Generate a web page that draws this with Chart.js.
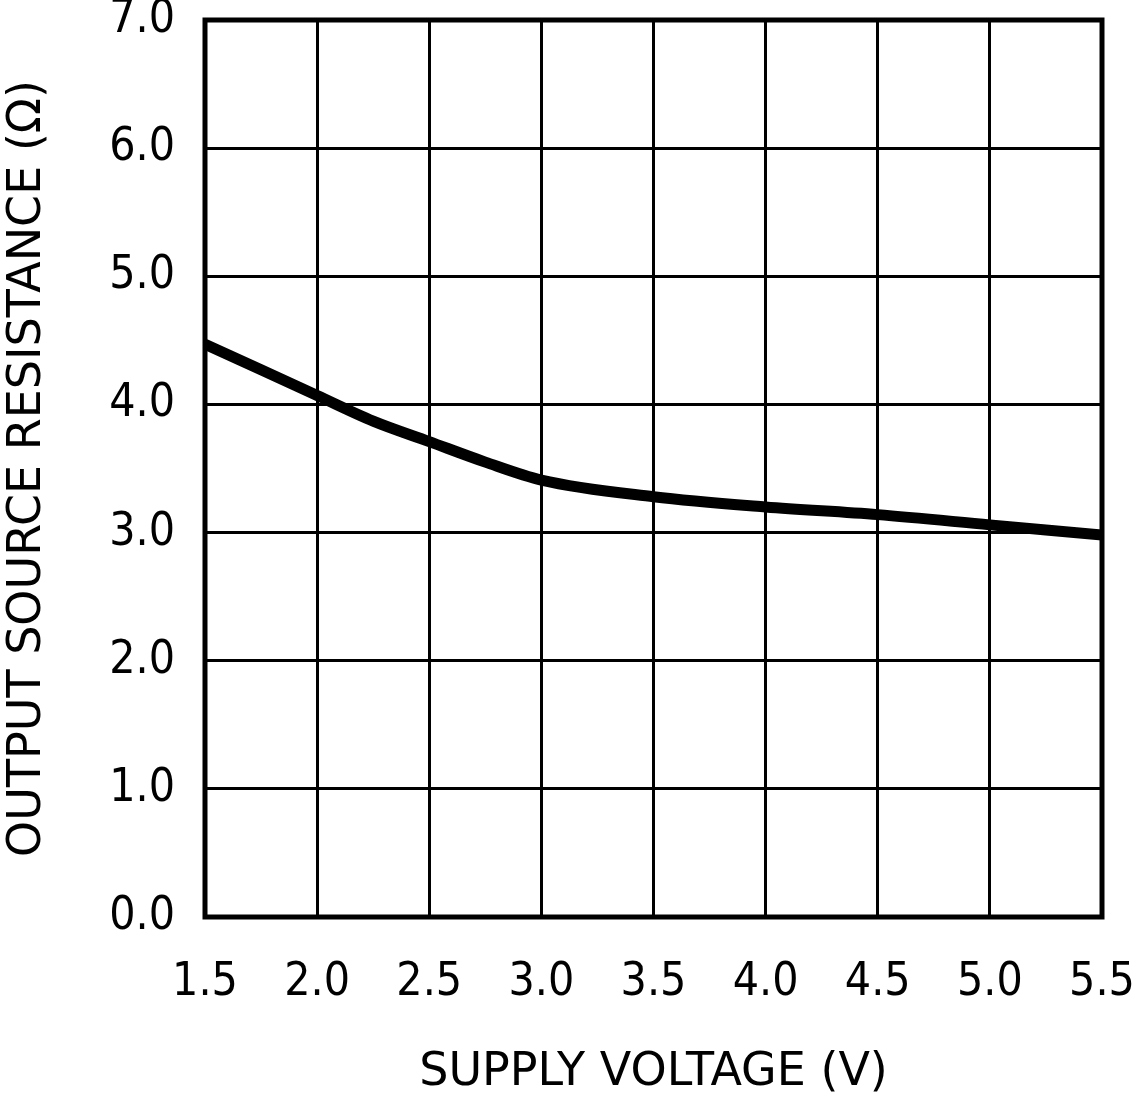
<!DOCTYPE html>
<html>
<head>
<meta charset="utf-8">
<script src="https://cdn.jsdelivr.net/npm/chart.js@4"></script>
<style>
    html, body { margin: 0; padding: 0; background: #fff; }
    #wrap { width: 1134px; height: 1101px; }
</style>
</head>
<body>
<div id="wrap"><canvas id="resChart" width="1134" height="1101"></canvas></div>
<script>
// Curve
const supplyVoltage = [1.5, 1.75, 2.0, 2.25, 2.5, 2.75, 3.0, 3.5, 4.0, 4.5, 5.0, 5.5];
const sourceResistance = [4.47, 4.27, 4.07, 3.87, 3.71, 3.55, 3.41, 3.28, 3.20, 3.14, 3.06, 2.98];

const xTicks = [1.5, 2.0, 2.5, 3.0, 3.5, 4.0, 4.5, 5.0, 5.5];
const yTicks = [0, 1, 2, 3, 4, 5, 6, 7];

const xTitle = 'SUPPLY VOLTAGE (V)';
const yTitle = 'OUTPUT SOURCE RESISTANCE (\u03A9)';

const tickFont = '"DejaVu Sans Condensed", "DejaVu Sans", sans-serif';
const titleFont = '"DejaVu Sans", sans-serif';

// Thick frame round the plot area
const framePlugin = {
    id: 'frame',
    afterDraw(chart) {
        const { ctx, chartArea: a } = chart;
        ctx.save();
        ctx.strokeStyle = '#000';
        ctx.lineWidth = 5;
        ctx.strokeRect(a.left, a.top, a.right - a.left, a.bottom - a.top);
        ctx.restore();
    }
};

// don't let label overflow push the plot area in
function noOverflow(scale) {
    scale.paddingTop = 0;
    scale.paddingBottom = 0;
    scale.paddingLeft = 0;
    scale.paddingRight = 0;
}

const points = supplyVoltage.map((v, i) => ({ x: v, y: sourceResistance[i] }));

new Chart(document.getElementById('resChart').getContext('2d'), {
    type: 'line',
    data: {
        datasets: [{
            data: points,
            borderColor: '#000',
            borderWidth: 11,
            pointRadius: 0,
            fill: false,
            cubicInterpolationMode: 'monotone'
        }]
    },
    options: {
        responsive: false,
        animation: false,
        layout: { padding: { top: 20, right: 32, left: 0, bottom: 0 } },
        plugins: { legend: { display: false }, tooltip: { enabled: false } },
        scales: {
            x: {
                type: 'linear',
                min: 1.5,
                max: 5.5,
                afterBuildTicks: scale => { scale.ticks = xTicks.map(v => ({ value: v })); },
                afterFit: scale => { scale.height = 184; noOverflow(scale); },
                grid: { color: '#000', lineWidth: 3, drawTicks: false },
                border: { display: false },
                ticks: {
                    color: '#000',
                    padding: 38,
                    maxRotation: 0,
                    font: { family: tickFont, size: 46 },
                    callback: v => v.toFixed(1)
                },
                title: {
                    display: true,
                    text: xTitle,
                    color: '#000',
                    font: { family: titleFont, size: 46 },
                    padding: 0
                }
            },
            y: {
                min: 0,
                max: 7,
                afterBuildTicks: scale => { scale.ticks = yTicks.map(v => ({ value: v })); },
                afterFit: scale => { scale.width = 205; noOverflow(scale); },
                grid: { color: '#000', lineWidth: 3, drawTicks: false },
                border: { display: false },
                ticks: {
                    color: '#000',
                    padding: 30,
                    font: { family: tickFont, size: 46 },
                    callback: v => v.toFixed(1)
                },
                title: {
                    display: true,
                    text: yTitle,
                    color: '#000',
                    font: { family: titleFont, size: 46 },
                    padding: 0
                }
            }
        }
    },
    plugins: [framePlugin]
});
</script>
</body>
</html>
